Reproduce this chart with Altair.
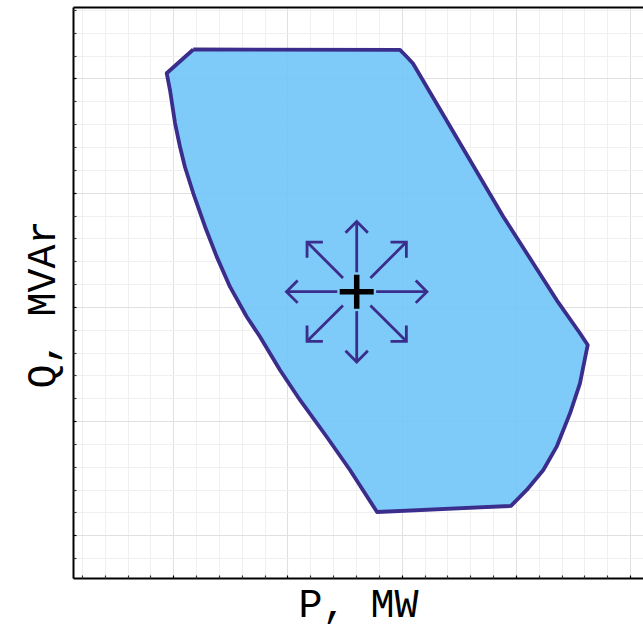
import altair as alt
import pandas as pd
import numpy as np

# Polygon (operating region) vertices, in axis units
P_VALUES = [1.75, 19.85, 20.38, 20.99, 28.90, 33.57, 35.61, 36.29, 36.20, 35.61,
            34.74, 33.57, 32.40, 30.95, 29.57, 17.84, 15.47, 13.43, 11.09, 9.34,
            7.59, 6.43, 4.96, 3.80, 2.78, 1.75, 1.02, 0.59, 0.15, -0.29, -0.58]
Q_VALUES = [42.54, 42.50, 41.97, 41.31, 27.90, 20.60, 17.69, 16.66, 16.23, 13.31,
            10.68, 7.76, 5.72, 3.97, 2.57, 2.04, 5.72, 8.63, 11.85, 14.47,
            17.39, 19.14, 21.77, 24.40, 27.02, 29.95, 32.25, 34.00, 36.10, 38.99, 40.46]

# Operating point and the eight direction arrows
CENTER_P = [16.06]
CENTER_Q = [21.33]
ARROW_ANGLES = [0, 45, 90, 135, 180, 225, 270, 315]
ARROW_START = 1.7
ARROW_END = 6.15

# Grid / tick values and axis extents
X_GRID = list(range(-8, 42, 2))
Y_GRID = list(range(-2, 48, 2))
X_DOMAIN = [-8.783, 41.130]
Y_DOMAIN = [-3.74, 46.26]

W, H = 570, 571
EDGE = "#3a2d8c"
FILL = "#6cc3f7"
FONT = "Liberation Mono"

# ---- tables ----
n = len(P_VALUES)
poly = pd.DataFrame({
    "P": P_VALUES + [P_VALUES[0]],
    "Q": Q_VALUES + [Q_VALUES[0]],
    "i": list(range(n + 1)),
})

ang = np.radians(ARROW_ANGLES)
arrows = pd.DataFrame({
    "x0": CENTER_P[0] + ARROW_START * np.cos(ang),
    "y0": CENTER_Q[0] + ARROW_START * np.sin(ang),
    "x1": CENTER_P[0] + ARROW_END * np.cos(ang),
    "y1": CENTER_Q[0] + ARROW_END * np.sin(ang),
    "rot": [(360 - a) % 360 for a in ARROW_ANGLES],
})
center = pd.DataFrame({"P": CENTER_P, "Q": CENTER_Q})

xs = alt.Scale(domain=X_DOMAIN, nice=False, zero=False)
ys = alt.Scale(domain=Y_DOMAIN, nice=False, zero=False)

major_x = {"condition": {"test": "datum.value % 10 === 0", "value": "#e0e0e0"}, "value": "#f0f0f0"}
major_y = {"condition": {"test": "datum.value % 10 === 0", "value": "#e0e0e0"}, "value": "#f0f0f0"}
tick_c = {"condition": {"test": "datum.value % 10 === 0", "value": "#000000"}, "value": "#333333"}

# Layer A: polygon, with main axes (titles, grid, left/bottom frame)
poly_layer = alt.Chart(poly).mark_line(
    fill=FILL, fillOpacity=0.88, stroke=EDGE, strokeWidth=3.8, strokeJoin="round"
).encode(
    x=alt.X("P:Q", scale=xs, axis=alt.Axis(
        orient="bottom", values=X_GRID, grid=True, gridColor=major_x, gridWidth=1,
        ticks=False, labels=False, domain=True, domainColor="black", domainWidth=2,
        title="P, MW", titleFont=FONT, titleFontSize=40, titleFontWeight="normal",
        titleColor="black", titlePadding=6)),
    y=alt.Y("Q:Q", scale=ys, axis=alt.Axis(
        orient="left", values=Y_GRID, grid=True, gridColor=major_y, gridWidth=1,
        ticks=False, labels=False, domain=True, domainColor="black", domainWidth=2,
        title="Q, MVAr", titleFont=FONT, titleFontSize=40, titleFontWeight="normal",
        titleColor="black", titlePadding=11, titleY=297)),
    order=alt.Order("i:Q"),
)

# Layer B: arrow shafts, with inward tick axes
shafts = alt.Chart(arrows).mark_rule(color=EDGE, strokeWidth=2.8).encode(
    x=alt.X("x0:Q", scale=xs, axis=alt.Axis(
        orient="top", offset=-H, values=X_GRID, grid=False, labels=False,
        domain=False, ticks=True, tickSize=3, tickColor=tick_c, tickWidth=1.2, title=None)),
    y=alt.Y("y0:Q", scale=ys, axis=alt.Axis(
        orient="right", offset=-W, values=Y_GRID, grid=False, labels=False,
        domain=False, ticks=True, tickSize=3, tickColor=tick_c, tickWidth=1.2, title=None)),
    x2="x1:Q",
    y2="y1:Q",
)

# Layer C: arrow heads, with top frame line
heads = alt.Chart(arrows).mark_point(
    shape="M-1,-1L0,0L-1,1", filled=False, size=500, stroke=EDGE,
    strokeWidth=2.8, opacity=1, strokeJoin="miter",
).encode(
    x=alt.X("x1:Q", scale=xs, axis=alt.Axis(
        orient="top", offset=0, grid=False, labels=False, ticks=False,
        domain=True, domainColor="black", domainWidth=2, title=None)),
    y=alt.Y("y1:Q", scale=ys, axis=None),
    angle=alt.Angle("rot:Q", scale=None),
)

# Layer D: the operating point (+)
plus = alt.Chart(center).mark_point(
    shape="M-1,0L1,0M0,-1L0,1", filled=False, size=1156, stroke="black",
    strokeWidth=5.5, opacity=1,
).encode(
    x=alt.X("P:Q", scale=xs, axis=None),
    y=alt.Y("Q:Q", scale=ys, axis=None),
)

chart = alt.layer(poly_layer, shafts, heads, plus).resolve_axis(
    x="independent", y="independent"
).properties(
    width=W, height=H,
    autosize=alt.AutoSizeParams(type="none"),
    padding={"left": 73, "top": 7, "right": 0, "bottom": 46},
    background="white",
).configure_view(stroke=None)

chart.save("out.html", embed_options={"renderer": "svg", "actions": False})
